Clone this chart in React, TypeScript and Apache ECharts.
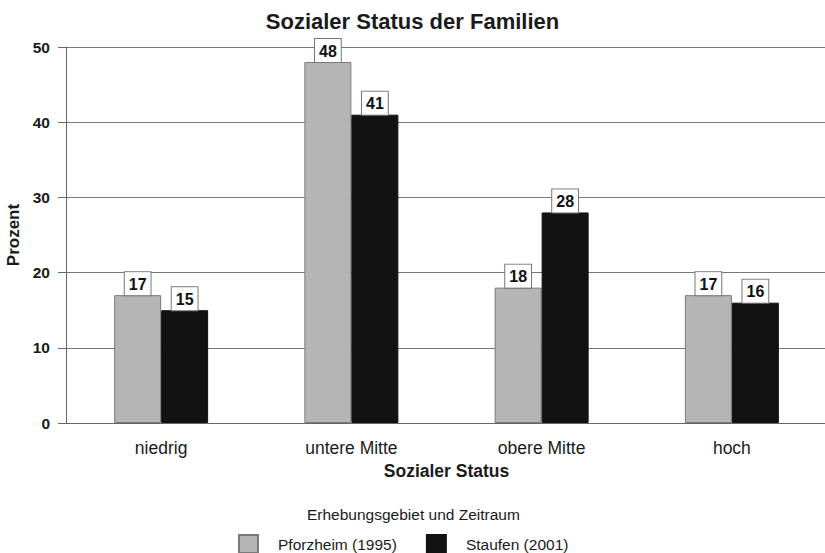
import React, { useEffect, useRef } from "react";
import * as echarts from "echarts";

const categories = ["niedrig", "untere Mitte", "obere Mitte", "hoch"];
const pforzheim = [17, 48, 18, 17];
const staufen = [15, 41, 28, 16];
const seriesNames = ["Pforzheim (1995)", "Staufen (2001)"];
const yTicks = { min: 0, max: 50, interval: 10 };

const FONT = "'Liberation Sans', Arial, Helvetica, sans-serif";

export default function App() {
  const ref = useRef<HTMLDivElement>(null);
  useEffect(() => {
    if (!ref.current) return;
    const chart = echarts.init(ref.current, null, { renderer: "svg" });
    const label = {
      show: true,
      position: "top",
      distance: 0,
      backgroundColor: "#fff",
      borderColor: "#777",
      borderWidth: 1,
      padding: [4, 4, 3, 4],
      fontFamily: FONT,
      fontWeight: "bold",
      fontSize: 16,
      color: "#111",
    };
    chart.setOption({
      animation: false,
      backgroundColor: "#fff",
      textStyle: { fontFamily: FONT },
      title: {
        text: "Sozialer Status der Familien",
        left: "center",
        top: 5,
        textStyle: { fontFamily: FONT, fontSize: 22, fontWeight: "bold", color: "#1a1a1a" },
      },
      grid: { left: 66, right: -2, top: 47, bottom: 130, containLabel: false, outerBoundsMode: "none" },
      legend: {
        left: 238,
        top: 534,
        padding: 0,
        itemWidth: 19,
        itemHeight: 18,
        itemGap: 29,
        icon: "rect",
        textStyle: { fontFamily: FONT, fontSize: 15.5, color: "#1a1a1a", padding: [0, 0, 0, 15] },
        data: seriesNames,
      },
      graphic: [
        {
          type: "text",
          left: 307,
          top: 506,
          style: {
            text: "Erhebungsgebiet und Zeitraum",
            font: `15.5px ${FONT}`,
            fill: "#1a1a1a",
          },
        },
      ],
      xAxis: {
        type: "category",
        data: categories,
        name: "Sozialer Status",
        nameLocation: "middle",
        nameGap: 34,
        nameTextStyle: { fontFamily: FONT, fontSize: 17.5, fontWeight: "bold", color: "#1a1a1a" },
        axisLine: { lineStyle: { color: "#666", width: 1 } },
        axisTick: { alignWithLabel: true, length: 8, lineStyle: { color: "#666" } },
        axisLabel: { margin: 16, fontFamily: FONT, fontSize: 17.5, color: "#1a1a1a" },
      },
      yAxis: {
        type: "value",
        min: yTicks.min,
        max: yTicks.max,
        interval: yTicks.interval,
        name: "Prozent",
        nameLocation: "middle",
        nameGap: 38,
        nameRotate: 90,
        nameTextStyle: { fontFamily: FONT, fontSize: 17, fontWeight: "bold", color: "#1a1a1a" },
        axisLine: { show: true, lineStyle: { color: "#666", width: 1 } },
        axisTick: { show: true, length: 8, lineStyle: { color: "#666" } },
        axisLabel: { margin: 16, fontFamily: FONT, fontSize: 15.5, fontWeight: "bold", color: "#1a1a1a" },
        splitLine: { lineStyle: { color: "#777", width: 1 } },
      },
      series: [
        {
          name: seriesNames[0],
          type: "bar",
          data: pforzheim,
          barWidth: 47,
          barGap: "0%",
          itemStyle: { color: "#b5b5b5", borderColor: "#7a7a7a", borderWidth: 1 },
          label,
        },
        {
          name: seriesNames[1],
          type: "bar",
          data: staufen,
          barWidth: 47,
          barGap: "0%",
          itemStyle: { color: "#121212", borderColor: "#111", borderWidth: 1 },
          label,
        },
      ],
    });
    return () => chart.dispose();
  }, []);
  return <div ref={ref} style={{ width: 825, height: 553, position: "absolute", left: 0, top: 0 }} />;
}
